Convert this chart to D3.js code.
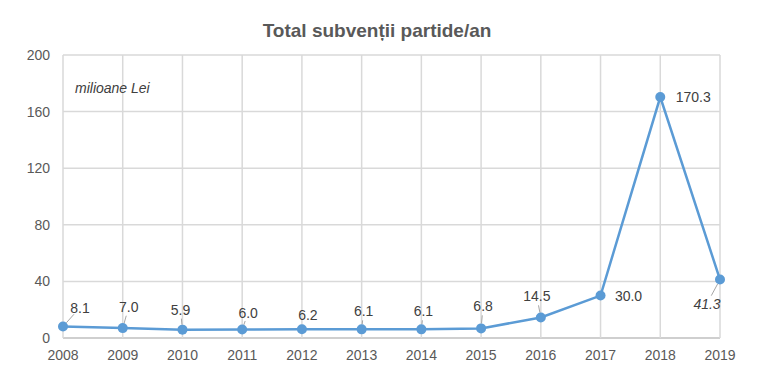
<!DOCTYPE html>
<html>
<head>
<meta charset="utf-8">
<script src="https://cdn.jsdelivr.net/npm/d3@7"></script>
<style>
  body { margin: 0; background: #fff; }
  svg { font-family: "Liberation Sans", Arial, sans-serif; }
</style>
</head>
<body>
<div id="chart"></div>
<script>
// data
const years = ["2008","2009","2010","2011","2012","2013","2014","2015","2016","2017","2018","2019"];
const values = [8.1, 7.0, 5.9, 6.0, 6.2, 6.1, 6.1, 6.8, 14.5, 30.0, 170.3, 41.3];
const yTicks = [0, 40, 80, 120, 160, 200];

// label offsets relative to each point (dx, dy) and whether a leader line is drawn
const labelPos = [
  [17, -19, true], [6, -21, true], [-2, -20, true], [6, -17, true],
  [6, -14, false], [2, -18, true], [2, -18, true], [2, -22, true],
  [-4, -21, true], [28, 0, false], [33, 0, false], [-13, 24, true]
];

const w = 768, h = 372;
const margin = {top: 55, right: 48, bottom: 34, left: 63};

const svg = d3.select("#chart").append("svg")
  .attr("width", w).attr("height", h);

const x = d3.scalePoint().domain(years).range([margin.left, w - margin.right]);
const y = d3.scaleLinear().domain([0, 200]).range([h - margin.bottom, margin.top]);

// title
svg.append("text")
  .attr("x", 377).attr("y", 37)
  .attr("text-anchor", "middle")
  .style("font-size", "19px").style("font-weight", "bold")
  .style("fill", "#595959")
  .text("Total subvenții partide/an");

// horizontal grid
svg.append("g")
  .selectAll("line").data(yTicks).enter().append("line")
  .attr("x1", margin.left).attr("x2", w - margin.right)
  .attr("y1", d => y(d)).attr("y2", d => y(d))
  .style("stroke", d => d === 0 ? "#bfbfbf" : "#d9d9d9").style("stroke-width", 1.5);

// vertical grid at each year
svg.append("g")
  .selectAll("line").data(years).enter().append("line")
  .attr("x1", d => x(d)).attr("x2", d => x(d))
  .attr("y1", y(200)).attr("y2", y(0))
  .style("stroke", "#d9d9d9").style("stroke-width", 1.5);

// y tick labels
svg.append("g")
  .selectAll("text").data(yTicks).enter().append("text")
  .attr("x", 50).attr("y", d => y(d) + 5)
  .attr("text-anchor", "end")
  .style("font-size", "14px").style("fill", "#595959")
  .text(d => d);

// x tick labels
svg.append("g")
  .selectAll("text").data(years).enter().append("text")
  .attr("x", d => x(d)).attr("y", 360)
  .attr("text-anchor", "middle")
  .style("font-size", "14px").style("fill", "#595959")
  .text(d => d);

// unit note
svg.append("text")
  .attr("x", 75).attr("y", 93)
  .style("font-size", "14px").style("font-style", "italic")
  .style("fill", "#404040")
  .text("milioane Lei");

// line
const line = d3.line()
  .x((d, i) => x(years[i]))
  .y(d => y(d));

svg.append("path")
  .datum(values)
  .attr("d", line)
  .style("fill", "none")
  .style("stroke", "#5B9BD5")
  .style("stroke-width", 2.5);

// leader lines
values.forEach((v, i) => {
  const p = labelPos[i];
  if (!p[2]) return;
  const px = x(years[i]), py = y(v);
  const lx = px + p[0], ly = py + p[1];
  const len = Math.hypot(p[0], p[1]);
  const ux = p[0] / len, uy = p[1] / len;
  svg.append("line")
    .attr("x1", px + ux * 5).attr("y1", py + uy * 5)
    .attr("x2", lx - ux * 9).attr("y2", ly - uy * 9)
    .style("stroke", "#a6a6a6").style("stroke-width", 1);
});

// markers
svg.append("g")
  .selectAll("circle").data(values).enter().append("circle")
  .attr("cx", (d, i) => x(years[i]))
  .attr("cy", d => y(d))
  .attr("r", 5)
  .style("fill", "#5B9BD5");

// data labels
svg.append("g")
  .selectAll("text").data(values).enter().append("text")
  .attr("x", (d, i) => x(years[i]) + labelPos[i][0])
  .attr("y", (d, i) => y(d) + labelPos[i][1] + 5)
  .attr("text-anchor", "middle")
  .style("font-size", "14px")
  .style("font-style", (d, i) => i === values.length - 1 ? "italic" : "normal")
  .style("fill", "#404040")
  .text(d => d.toFixed(1));
</script>
</body>
</html>
